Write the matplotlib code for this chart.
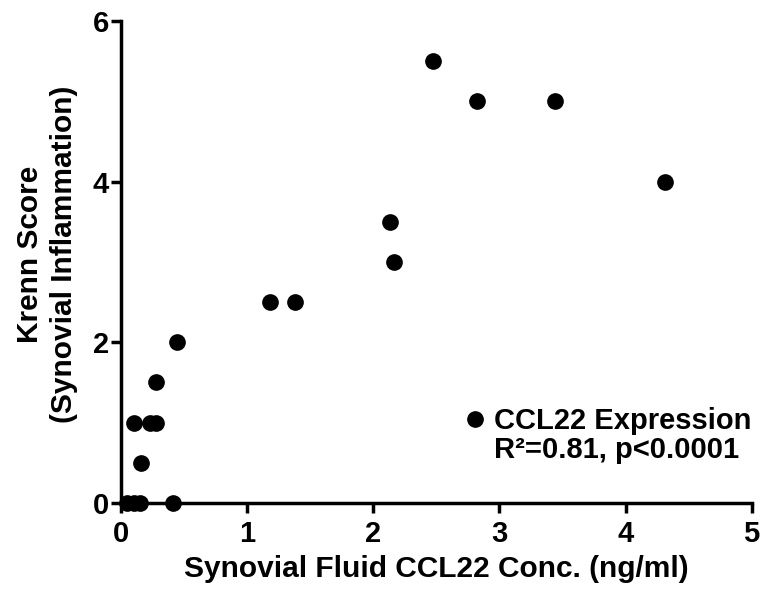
import matplotlib.pyplot as plt
from matplotlib.lines import Line2D

# synovial fluid CCL22 concentration (ng/ml) vs Krenn score
ccl22_conc = [0.05, 0.10, 0.15, 0.41, 0.16, 0.10, 0.23, 0.28, 0.28, 0.44,
              1.18, 1.38, 2.16, 2.13, 2.47, 2.82, 3.44, 4.31]
krenn_score = [0.0, 0.0, 0.0, 0.0, 0.5, 1.0, 1.0, 1.0, 1.5, 2.0,
               2.5, 2.5, 3.0, 3.5, 5.5, 5.0, 5.0, 4.0]
x_ticks = [0, 1, 2, 3, 4, 5]
y_ticks = [0, 2, 4, 6]

plt.rcParams['font.family'] = ['Liberation Sans', 'DejaVu Sans']
plt.rcParams['font.weight'] = 'bold'

fig = plt.figure(figsize=(7.67, 5.97), dpi=100)
ax = fig.add_axes([0.158, 0.1575, 0.822, 0.8075])

ax.plot(ccl22_conc, krenn_score, 'o', color='black', markersize=11,
        clip_on=False, zorder=5)

ax.set_xlim(0, 5)
ax.set_ylim(0, 6)
ax.set_xticks(x_ticks)
ax.set_yticks(y_ticks)
ax.tick_params(width=2.5, length=7, labelsize=21, direction='out')
ax.tick_params(axis='x', pad=5)
ax.tick_params(axis='y', pad=2)
for lab in ax.get_xticklabels() + ax.get_yticklabels():
    lab.set_fontweight('bold')

for side in ['top', 'right']:
    ax.spines[side].set_visible(False)
for side in ['left', 'bottom']:
    ax.spines[side].set_linewidth(2.5)

ax.set_xlabel('Synovial Fluid CCL22 Conc. (ng/ml)', fontsize=21.5,
              fontweight='bold', labelpad=5)
ax.set_ylabel('Krenn Score\n(Synovial Inflammation)', fontsize=21.5,
              fontweight='bold', linespacing=1.3)
ax.yaxis.set_label_coords(-0.068, 0.515)

handles = [Line2D([], [], marker='o', color='black', linestyle='none',
                  markersize=11),
           Line2D([], [], linestyle='none')]
labels = ['CCL22 Expression', 'R²=0.81, p<0.0001']
ax.legend(handles, labels, loc='lower right', bbox_to_anchor=(1.0, 0.08),
          frameon=False, handletextpad=0.15, handlelength=1.0,
          borderpad=0, borderaxespad=0,
          labelspacing=0.05, prop={'weight': 'bold', 'size': 21})

fig.savefig('out.png', dpi=100)
